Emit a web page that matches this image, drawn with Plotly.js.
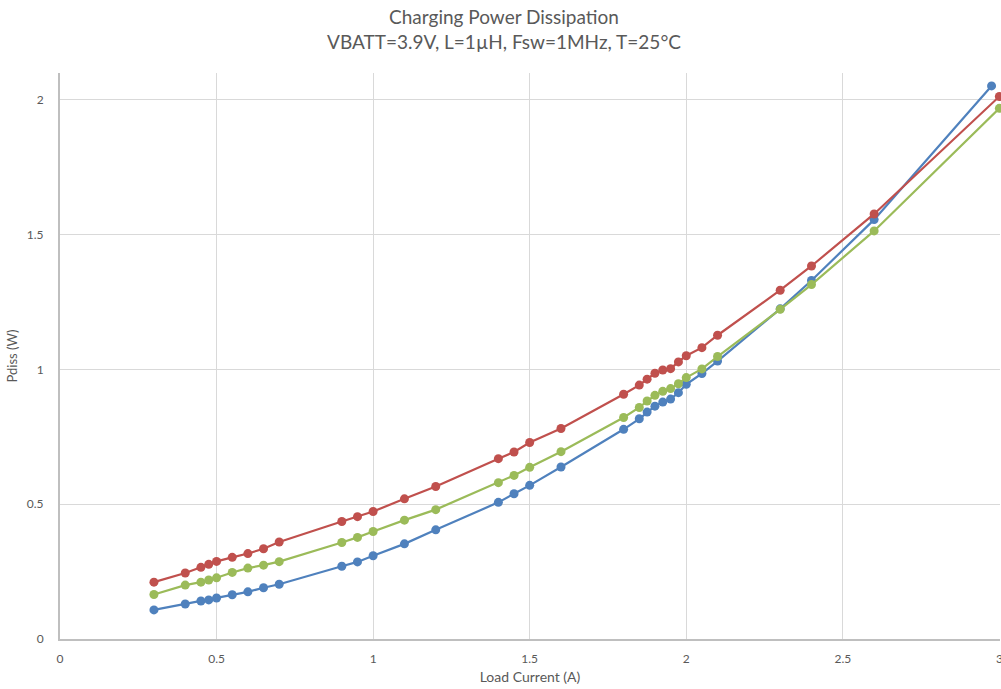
<!DOCTYPE html>
<html>
<head>
<meta charset="utf-8">
<script src="https://cdn.plot.ly/plotly-3.0.1.min.js"></script>
<style>html,body{margin:0;padding:0;background:#fff;}#chart{width:1001px;height:689px;}</style>
</head>
<body>
<div id="chart"></div>
<script>
// Load current (A)
const xCommon = [0.3,0.4,0.45,0.475,0.5,0.55,0.6,0.65,0.7,0.9,0.95,1.0,1.1,1.2,1.4,1.45,1.5,1.6,1.8,1.85,1.875,1.9,1.925,1.95,1.975,2.0,2.05,2.1,2.3,2.4,2.6,3.0];
const xBlue = [0.3,0.4,0.45,0.475,0.5,0.55,0.6,0.65,0.7,0.9,0.95,1.0,1.1,1.2,1.4,1.45,1.5,1.6,1.8,1.85,1.875,1.9,1.925,1.95,1.975,2.0,2.05,2.1,2.3,2.4,2.6,2.975];
// Pdiss (W)
const blueVals = [0.108,0.130,0.141,0.145,0.152,0.164,0.175,0.190,0.203,0.270,0.286,0.309,0.353,0.405,0.507,0.539,0.570,0.638,0.778,0.817,0.842,0.864,0.879,0.890,0.914,0.945,0.985,1.031,1.225,1.330,1.556,2.052];
const redVals = [0.211,0.245,0.266,0.277,0.288,0.303,0.317,0.335,0.360,0.436,0.454,0.473,0.520,0.566,0.669,0.694,0.729,0.781,0.908,0.942,0.964,0.986,0.998,1.003,1.028,1.051,1.081,1.127,1.294,1.384,1.577,2.013];
const greenVals = [0.165,0.200,0.211,0.219,0.227,0.247,0.263,0.274,0.287,0.358,0.377,0.399,0.441,0.480,0.580,0.607,0.637,0.695,0.822,0.859,0.883,0.904,0.919,0.929,0.947,0.970,1.002,1.048,1.223,1.315,1.514,1.969];
const xTicks = [0,0.5,1,1.5,2,2.5,3];
const xTickText = ['0','0.5','1','1.5','2','2.5','3'];
const yTicks = [0,0.5,1,1.5,2];
const yTickText = ['0','0.5','1','1.5','2'];

const FONT = 'Lato, "Open Sans", sans-serif';
function series(x, y, color) {
  return {x: x, y: y, type: 'scatter', mode: 'lines+markers',
    line: {color: color, width: 2.2}, marker: {color: color, size: 9}, cliponaxis: false, hoverinfo: 'x+y'};
}
const data = [
  series(xBlue, blueVals, '#4F81BD'),
  series(xCommon, redVals, '#C0504D'),
  series(xCommon, greenVals, '#9BBB59')
];
const layout = {
  width: 1001, height: 689,
  margin: {l: 60, r: 1, t: 73, b: 50},
  paper_bgcolor: '#fff', plot_bgcolor: '#fff',
  showlegend: false,
  font: {family: FONT, color: '#595959', size: 12},
  title: {text: 'Charging Power Dissipation<br>VBATT=3.9V, L=1µH, Fsw=1MHz, T=25°C',
    font: {family: FONT, size: 19, color: '#595959'}, x: 0.5035, xanchor: 'center', xref: 'container',
    y: 0.965, yanchor: 'top', yref: 'container'},
  xaxis: {range: [0, 3.002], tickvals: xTicks, ticktext: xTickText, showgrid: true, gridcolor: '#d9d9d9', gridwidth: 1,
    zeroline: false, showline: true, linecolor: '#bfbfbf', linewidth: 2, ticks: '', ticklabelstandoff: 8,
    ticklabeloverflow: 'allow',
    tickfont: {size: 12, color: '#595959'},
    title: {text: 'Load Current (A)', font: {size: 14, color: '#595959'}, standoff: 7}},
  yaxis: {range: [0, 2.1], tickvals: yTicks, ticktext: yTickText, showgrid: true, gridcolor: '#d9d9d9', gridwidth: 1,
    zeroline: false, showline: true, linecolor: '#bfbfbf', linewidth: 2, ticks: '', ticklabelstandoff: 12,
    tickfont: {size: 12, color: '#595959'},
    title: {text: 'Pdiss (W)', font: {size: 13, color: '#595959'}, standoff: 6}}
};
Plotly.newPlot('chart', data, layout, {displayModeBar: false, staticPlot: true});
</script>
</body>
</html>
